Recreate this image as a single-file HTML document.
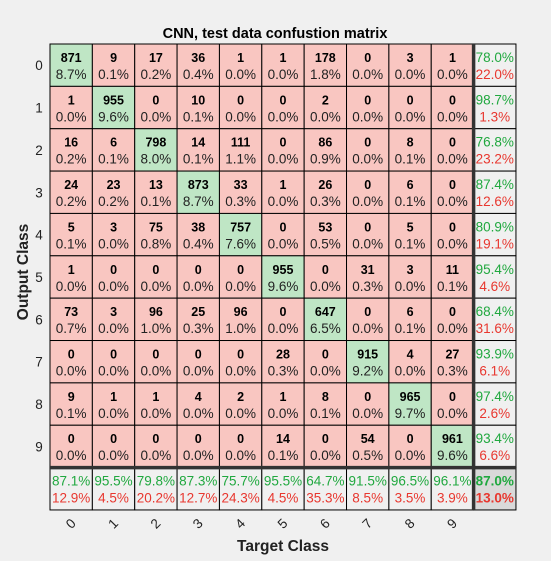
<!DOCTYPE html>
<html><head><meta charset="utf-8"><style>
body{margin:0;background:#f0f0f0;}
svg{display:block;font-family:"Liberation Sans",Arial,sans-serif;}
</style></head><body>
<svg id="chart" width="551" height="561"></svg>
<script>
const classes=['0','1','2','3','4','5','6','7','8','9'];
const counts=[
[871,9,17,36,1,1,178,0,3,1],
[1,955,0,10,0,0,2,0,0,0],
[16,6,798,14,111,0,86,0,8,0],
[24,23,13,873,33,1,26,0,6,0],
[5,3,75,38,757,0,53,0,5,0],
[1,0,0,0,0,955,0,31,3,11],
[73,3,96,25,96,0,647,0,6,0],
[0,0,0,0,0,28,0,915,4,27],
[9,1,1,4,2,1,8,0,965,0],
[0,0,0,0,0,14,0,54,0,961]];
const NS='http://www.w3.org/2000/svg';
const svg=document.getElementById('chart');
const x0=50,y0=44,cs=42.36,n=classes.length;
const cx=i=>x0+i*cs, cy=i=>y0+i*cs;
function mk(tag,attrs,txt){const e=document.createElementNS(NS,tag);for(const k in attrs)e.setAttribute(k,attrs[k]);if(txt!==undefined)e.textContent=txt;svg.appendChild(e);return e;}
const total=counts.flat().reduce((a,b)=>a+b,0);
const G='#20a83f',R='#e8372f';
let t=mk('text',{x:275,y:38,'text-anchor':'middle','font-size':14.5,'font-weight':'bold',fill:'#000'},'CNN, test data confustion matrix');

for(let r=0;r<n;r++){
  for(let c=0;c<n;c++){
    const v=counts[r][c];
    const rc=mk('rect',{x:cx(c),y:cy(r),width:cs,height:cs,fill:r===c?'#bfe6c5':'#f9c6c1',stroke:'#000','stroke-width':1});
    
    mk('text',{x:cx(c)+cs/2,y:cy(r)+18,'text-anchor':'middle','font-size':12.5,'font-weight':'bold',fill:'#000'},v);
    mk('text',{x:cx(c)+cs/2,y:cy(r)+35,'text-anchor':'middle','font-size':13.5,fill:'#222'},(v/total*100).toFixed(1)+'%');
  }
  const rs=counts[r].reduce((a,b)=>a+b,0),p=counts[r][r]/rs*100;
  const sr=mk('rect',{x:cx(n),y:cy(r),width:cs,height:cs,fill:'#f0f0f0',stroke:'#000','stroke-width':1});
  
  mk('text',{x:cx(n)+cs/2,y:cy(r)+18,'text-anchor':'middle','font-size':13.5,fill:G},p.toFixed(1)+'%');
  mk('text',{x:cx(n)+cs/2,y:cy(r)+35,'text-anchor':'middle','font-size':13.5,fill:R},(100-p).toFixed(1)+'%');
  const rl=mk('text',{x:39,y:cy(r)+cs/2+5,'text-anchor':'middle','font-size':13.5,fill:'#222'},classes[r]);
  
}
let diag=0;
for(let c=0;c<n;c++){
  let cs2=0;for(let r=0;r<n;r++)cs2+=counts[r][c];diag+=counts[c][c];
  const p=counts[c][c]/cs2*100;
  const sc=mk('rect',{x:cx(c),y:cy(n),width:cs,height:cs,fill:'#f0f0f0',stroke:'#000','stroke-width':1});
  
  mk('text',{x:cx(c)+cs/2,y:cy(n)+18,'text-anchor':'middle','font-size':13.5,fill:G},p.toFixed(1)+'%');
  mk('text',{x:cx(c)+cs/2,y:cy(n)+35,'text-anchor':'middle','font-size':13.5,fill:R},(100-p).toFixed(1)+'%');
  const lx=cx(c)+cs/2,ly=cy(n)+cs+18;
  const cl=mk('text',{x:lx,y:ly,'text-anchor':'middle','font-size':13.5,fill:'#222',transform:'rotate(-45 '+lx+' '+(ly-4)+')'},classes[c]);
  
}
const acc=diag/total*100;
const ov=mk('rect',{x:cx(n),y:cy(n),width:cs,height:cs,fill:'#d9d9d9',stroke:'#000','stroke-width':1});

mk('text',{x:cx(n)+cs/2,y:cy(n)+18,'text-anchor':'middle','font-size':13.5,'font-weight':'bold',fill:G},acc.toFixed(1)+'%');
mk('text',{x:cx(n)+cs/2,y:cy(n)+35,'text-anchor':'middle','font-size':13.5,'font-weight':'bold',fill:R},(100-acc).toFixed(1)+'%');
mk('line',{x1:cx(n),y1:y0,x2:cx(n),y2:cy(n+1),stroke:'#333','stroke-width':3.5});
mk('line',{x1:x0,y1:cy(n),x2:cx(n+1),y2:cy(n),stroke:'#333','stroke-width':3.5});
const xt=mk('text',{x:283,y:551,'text-anchor':'middle','font-size':15.5,'font-weight':'bold',fill:'#222'},'Target Class');

const yt=mk('text',{x:28,y:272,'text-anchor':'middle','font-size':15.5,'font-weight':'bold',fill:'#222',transform:'rotate(-90 28 272)'},'Output Class');

</script>
</body></html>
